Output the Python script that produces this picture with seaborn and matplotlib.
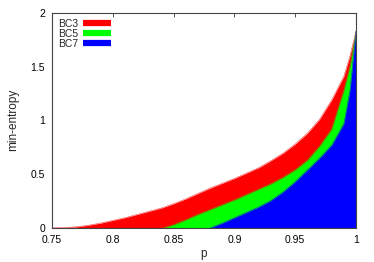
import numpy as np
import pandas as pd
import seaborn as sns
import matplotlib
matplotlib.use("Agg")
import matplotlib.pyplot as plt
from matplotlib.lines import Line2D

# values
p_bc3 = [0.75, 0.76, 0.77, 0.78, 0.79, 0.80, 0.81, 0.82, 0.83, 0.84, 0.85, 0.86, 0.87,
         0.88, 0.89, 0.90, 0.91, 0.92, 0.93, 0.94, 0.95, 0.96, 0.97, 0.98, 0.99, 0.995, 1.0]
h_bc3 = [0.0, 0.004, 0.01, 0.025, 0.045, 0.07, 0.095, 0.125, 0.155, 0.185, 0.225, 0.27, 0.32,
         0.37, 0.415, 0.46, 0.51, 0.56, 0.625, 0.695, 0.78, 0.88, 1.01, 1.19, 1.41, 1.60, 1.83]

p_bc5 = [0.8416, 0.85, 0.86, 0.87, 0.88, 0.89, 0.90, 0.91, 0.92, 0.93, 0.94, 0.95, 0.96,
         0.97, 0.98, 0.99, 0.995, 1.0]
h_bc5 = [0.0, 0.03, 0.075, 0.125, 0.17, 0.215, 0.26, 0.31, 0.36, 0.41, 0.47, 0.54, 0.63,
         0.76, 0.92, 1.28, 1.50, 1.83]

p_bc7 = [0.88, 0.89, 0.90, 0.91, 0.92, 0.93, 0.94, 0.95, 0.96, 0.97, 0.98, 0.99, 0.995, 1.0]
h_bc7 = [0.0, 0.045, 0.095, 0.145, 0.195, 0.255, 0.335, 0.43, 0.54, 0.65, 0.77, 0.97, 1.28, 1.83]

series = [("BC3", p_bc3, h_bc3, "#ff0000"),
          ("BC5", p_bc5, h_bc5, "#00ff00"),
          ("BC7", p_bc7, h_bc7, "#0000ff")]

sns.set_style("white")
plt.rcParams["font.family"] = ["Liberation Sans", "DejaVu Sans"]

fig = plt.figure(figsize=(3.74, 2.62), dpi=100)
ax = fig.add_axes([0.139, 0.130, 0.813, 0.8215])

for name, p, h, col in series:
    df = pd.DataFrame({"p": p, "h": h})
    ax.fill_between(df["p"], 0, df["h"], color=col, linewidth=0)
    sns.lineplot(data=df, x="p", y="h", color=col, linewidth=0.3, ax=ax, sort=True)

ax.set_xlim(0.75, 1.0)
ax.set_ylim(0, 2)
ax.set_xticks([0.75, 0.8, 0.85, 0.9, 0.95, 1.0])
ax.set_xticklabels(["0.75", "0.8", "0.85", "0.9", "0.95", "1"])
ax.set_yticks([0, 0.5, 1, 1.5, 2])
ax.set_yticklabels(["0", "0.5", "1", "1.5", "2"])
ax.tick_params(direction="in", length=3, width=0.6, labelsize=7.5, top=True, right=True,
               colors="#333333", labelcolor="black", pad=5)
for s in ax.spines.values():
    s.set_color("#444444")
    s.set_linewidth(0.8)
ax.set_xlabel("p", fontsize=8.5, labelpad=2)
ax.set_ylabel("min-entropy", fontsize=8.5, labelpad=8)

handles = [Line2D([0], [0], color=col, lw=4.5, solid_capstyle="butt") for _, _, _, col in series]
labels = [name for name, _, _, _ in series]
ax.legend(handles, labels, loc="upper left", frameon=False, markerfirst=False, fontsize=7.5,
          handlelength=2.7, handletextpad=0.4, labelspacing=0.0, borderaxespad=0.2,
          bbox_to_anchor=(0.0, 1.0))

fig.savefig("out.png", dpi=100)
